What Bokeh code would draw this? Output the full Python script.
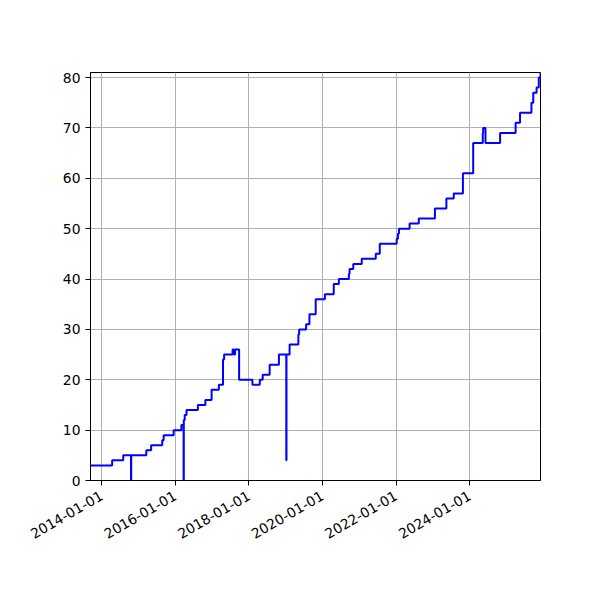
import math
import pandas as pd
from bokeh.plotting import figure
from bokeh.models import Range1d, FixedTicker, ColumnDataSource
from bokeh.embed import file_html
from bokeh.resources import INLINE

# step points (date, count)
dates = [
    "2013-09-13", "2014-04-16", "2014-08-04", "2014-10-20", "2014-10-22",
    "2015-03-21", "2015-05-08", "2015-08-26", "2015-09-09", "2015-12-17",
    "2016-03-03", "2016-03-25", "2016-03-27", "2016-04-05", "2016-04-23",
    "2016-08-14", "2016-10-27", "2016-12-28", "2017-03-10", "2017-04-20",
    "2017-05-01", "2017-07-24", "2017-08-08", "2017-08-18", "2017-09-27",
    "2018-02-06", "2018-04-20", "2018-05-19", "2018-07-27", "2018-10-27",
    "2019-01-08", "2019-01-10", "2019-02-10", "2019-05-08", "2019-05-16",
    "2019-07-24", "2019-08-26", "2019-10-27", "2020-01-26", "2020-04-23",
    "2020-06-13", "2020-09-20", "2020-09-27", "2020-11-03", "2021-01-26",
    "2021-06-14", "2021-07-24", "2022-01-08", "2022-01-20", "2022-01-30",
    "2022-05-16", "2022-08-15", "2023-01-22", "2023-05-16", "2023-07-28",
    "2023-10-27", "2024-02-06", "2024-05-11", "2024-05-15", "2024-06-07",
    "2024-10-30", "2025-04-02", "2025-05-16", "2025-09-06", "2025-09-24",
    "2025-10-27", "2025-11-18", "2025-12-05",
]
counts = [
    3, 4, 5, 0, 5,
    6, 7, 8, 9, 10,
    11, 0, 12, 13, 14,
    15, 16, 18, 19, 24,
    25, 26, 25, 26, 20,
    19, 20, 21, 23, 25,
    4, 25, 27, 29, 30,
    31, 33, 36, 37, 39,
    40, 41, 42, 43, 44,
    45, 47, 48, 49, 50,
    51, 52, 54, 56, 57,
    61, 67, 69, 70, 67,
    69, 71, 73, 75, 77,
    78, 80, 81,
]

x_tick_labels = ["2014-01-01", "2016-01-01", "2018-01-01",
                 "2020-01-01", "2022-01-01", "2024-01-01"]
y_ticks = [0, 10, 20, 30, 40, 50, 60, 70, 80]
x_start, x_end = "2013-09-13", "2025-12-05"
y_start, y_end = 0, 81


def ms(s):
    return pd.Timestamp(s).value / 1e6


source = ColumnDataSource(dict(date=[ms(d) for d in dates], count=counts))

p = figure(width=584, height=584, x_axis_type="datetime",
           output_backend="svg", toolbar_location=None,
           min_border_left=90, min_border_right=44,
           min_border_top=72, min_border_bottom=104,
           x_range=Range1d(ms(x_start), ms(x_end)),
           y_range=Range1d(y_start, y_end))

p.step(x="date", y="count", source=source, mode="after",
       line_color="#0000ff", line_width=2)

xt = [ms(s) for s in x_tick_labels]
p.xaxis.ticker = FixedTicker(ticks=xt)
p.xaxis.major_label_overrides = {t: s for t, s in zip(xt, x_tick_labels)}
p.xaxis.major_label_orientation = math.pi / 6
p.xaxis.major_label_standoff = 9
p.yaxis.ticker = FixedTicker(ticks=y_ticks)

for ax in (p.xaxis[0], p.yaxis[0]):
    ax.major_label_text_font = "DejaVu Sans"
    ax.major_label_text_font_size = "13.9px"
    ax.major_label_text_color = "black"
    ax.axis_line_color = "black"
    ax.major_tick_line_color = "black"
    ax.major_tick_in = 0
    ax.major_tick_out = 5
    ax.minor_tick_line_color = None

p.grid.grid_line_color = "#b0b0b0"
p.grid.grid_line_width = 1
p.outline_line_color = "black"
p.outline_line_width = 1
p.outline_line_alpha = 1
p.background_fill_color = "white"
p.border_fill_color = "white"

open("out.html", "w").write(file_html(p, INLINE))
